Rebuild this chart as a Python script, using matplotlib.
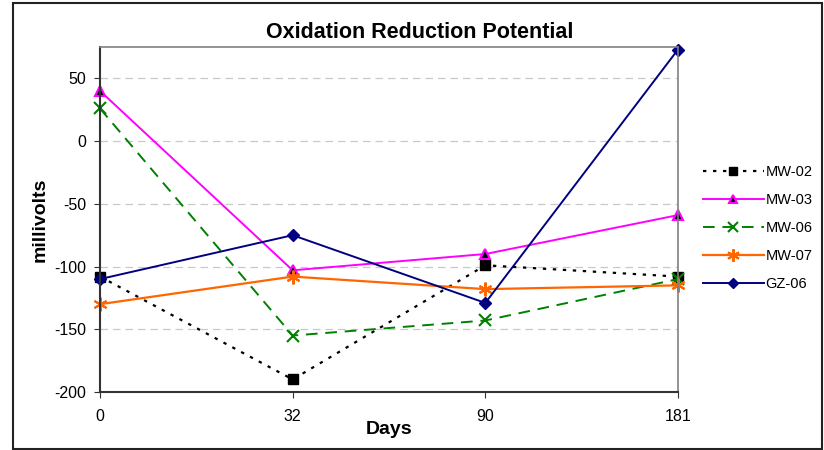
import matplotlib.pyplot as plt
from matplotlib.patches import Rectangle

plt.rcParams['font.family'] = ['Liberation Sans', 'DejaVu Sans']
plt.rcParams['axes.unicode_minus'] = False

days = ['0', '32', '90', '181']
mw02 = [-108, -190, -99, -108]
mw03 = [40, -103, -90, -59]
mw06 = [26, -155, -143, -110]
mw07 = [-130, -108, -118, -115]
gz06 = [-110, -75, -129, 73]

fig = plt.figure(figsize=(8.24, 4.5), dpi=100)
ax = fig.add_axes([100 / 824, 1 - 392 / 450, 578 / 824, 345 / 450])

# outer chart frame
fig.patches.append(Rectangle((13 / 824, 1 - 449 / 450), 809 / 824, 446 / 450,
                             transform=fig.transFigure, fill=False,
                             edgecolor='#222222', linewidth=1.5))

x = range(len(days))
ax.plot(x, mw02, color='black', linestyle=(0, (1.5, 3)), linewidth=1.6,
        marker='s', markersize=7, markerfacecolor='black', markeredgecolor='black',
        clip_on=False, label='MW-02')
ax.plot(x, mw03, color='#FF00FF', linewidth=1.4,
        marker='^', markersize=7, markerfacecolor='black', markeredgecolor='#FF00FF',
        markeredgewidth=1.5, clip_on=False, label='MW-03')
ax.plot(x, mw06, color='#008000', linestyle=(0, (6, 4)), linewidth=1.4,
        marker='x', markersize=8, markeredgewidth=1.5, clip_on=False, label='MW-06')
ax.plot(x, mw07, color='#FF6600', linewidth=1.6,
        marker=(6, 2, 0), markersize=10, markeredgewidth=1.5, clip_on=False, label='MW-07')
ax.plot(x, gz06, color='#000080', linewidth=1.4,
        marker='D', markersize=6, markerfacecolor='#000080', clip_on=False, label='GZ-06')

ax.set_xlim(0, 3)
ax.set_ylim(-200, 75)
ax.set_xticks(list(x))
ax.set_xticklabels(days)
ax.set_yticks([-200, -150, -100, -50, 0, 50])
ax.tick_params(labelsize=11.5, direction='out', length=4, color='#333333', pad=6)
ax.tick_params(axis='x', pad=8)
ax.yaxis.grid(True, color='#c8c8c8', linestyle=(0, (6, 4)), linewidth=0.9)
ax.set_axisbelow(True)

for side in ['top', 'right']:
    ax.spines[side].set_color('#808080')
    ax.spines[side].set_linewidth(1.2)
for side in ['left', 'bottom']:
    ax.spines[side].set_color('#333333')
    ax.spines[side].set_linewidth(1.5)

fig.text(420 / 824, 1 - 32 / 450, 'Oxidation Reduction Potential', fontsize=15.5,
         fontweight='bold', ha='center', va='center')
ax.set_xlabel('Days', fontsize=14, fontweight='bold', labelpad=-2)
ax.set_ylabel('millivolts', fontsize=14, fontweight='bold', labelpad=4)

ax.legend(loc='center left', bbox_to_anchor=(1.02, 0.475), frameon=False,
          fontsize=10.5, handlelength=4.2, labelspacing=0.95, handletextpad=0.1,
          markerscale=0.9)

fig.savefig('out.png', dpi=100)
